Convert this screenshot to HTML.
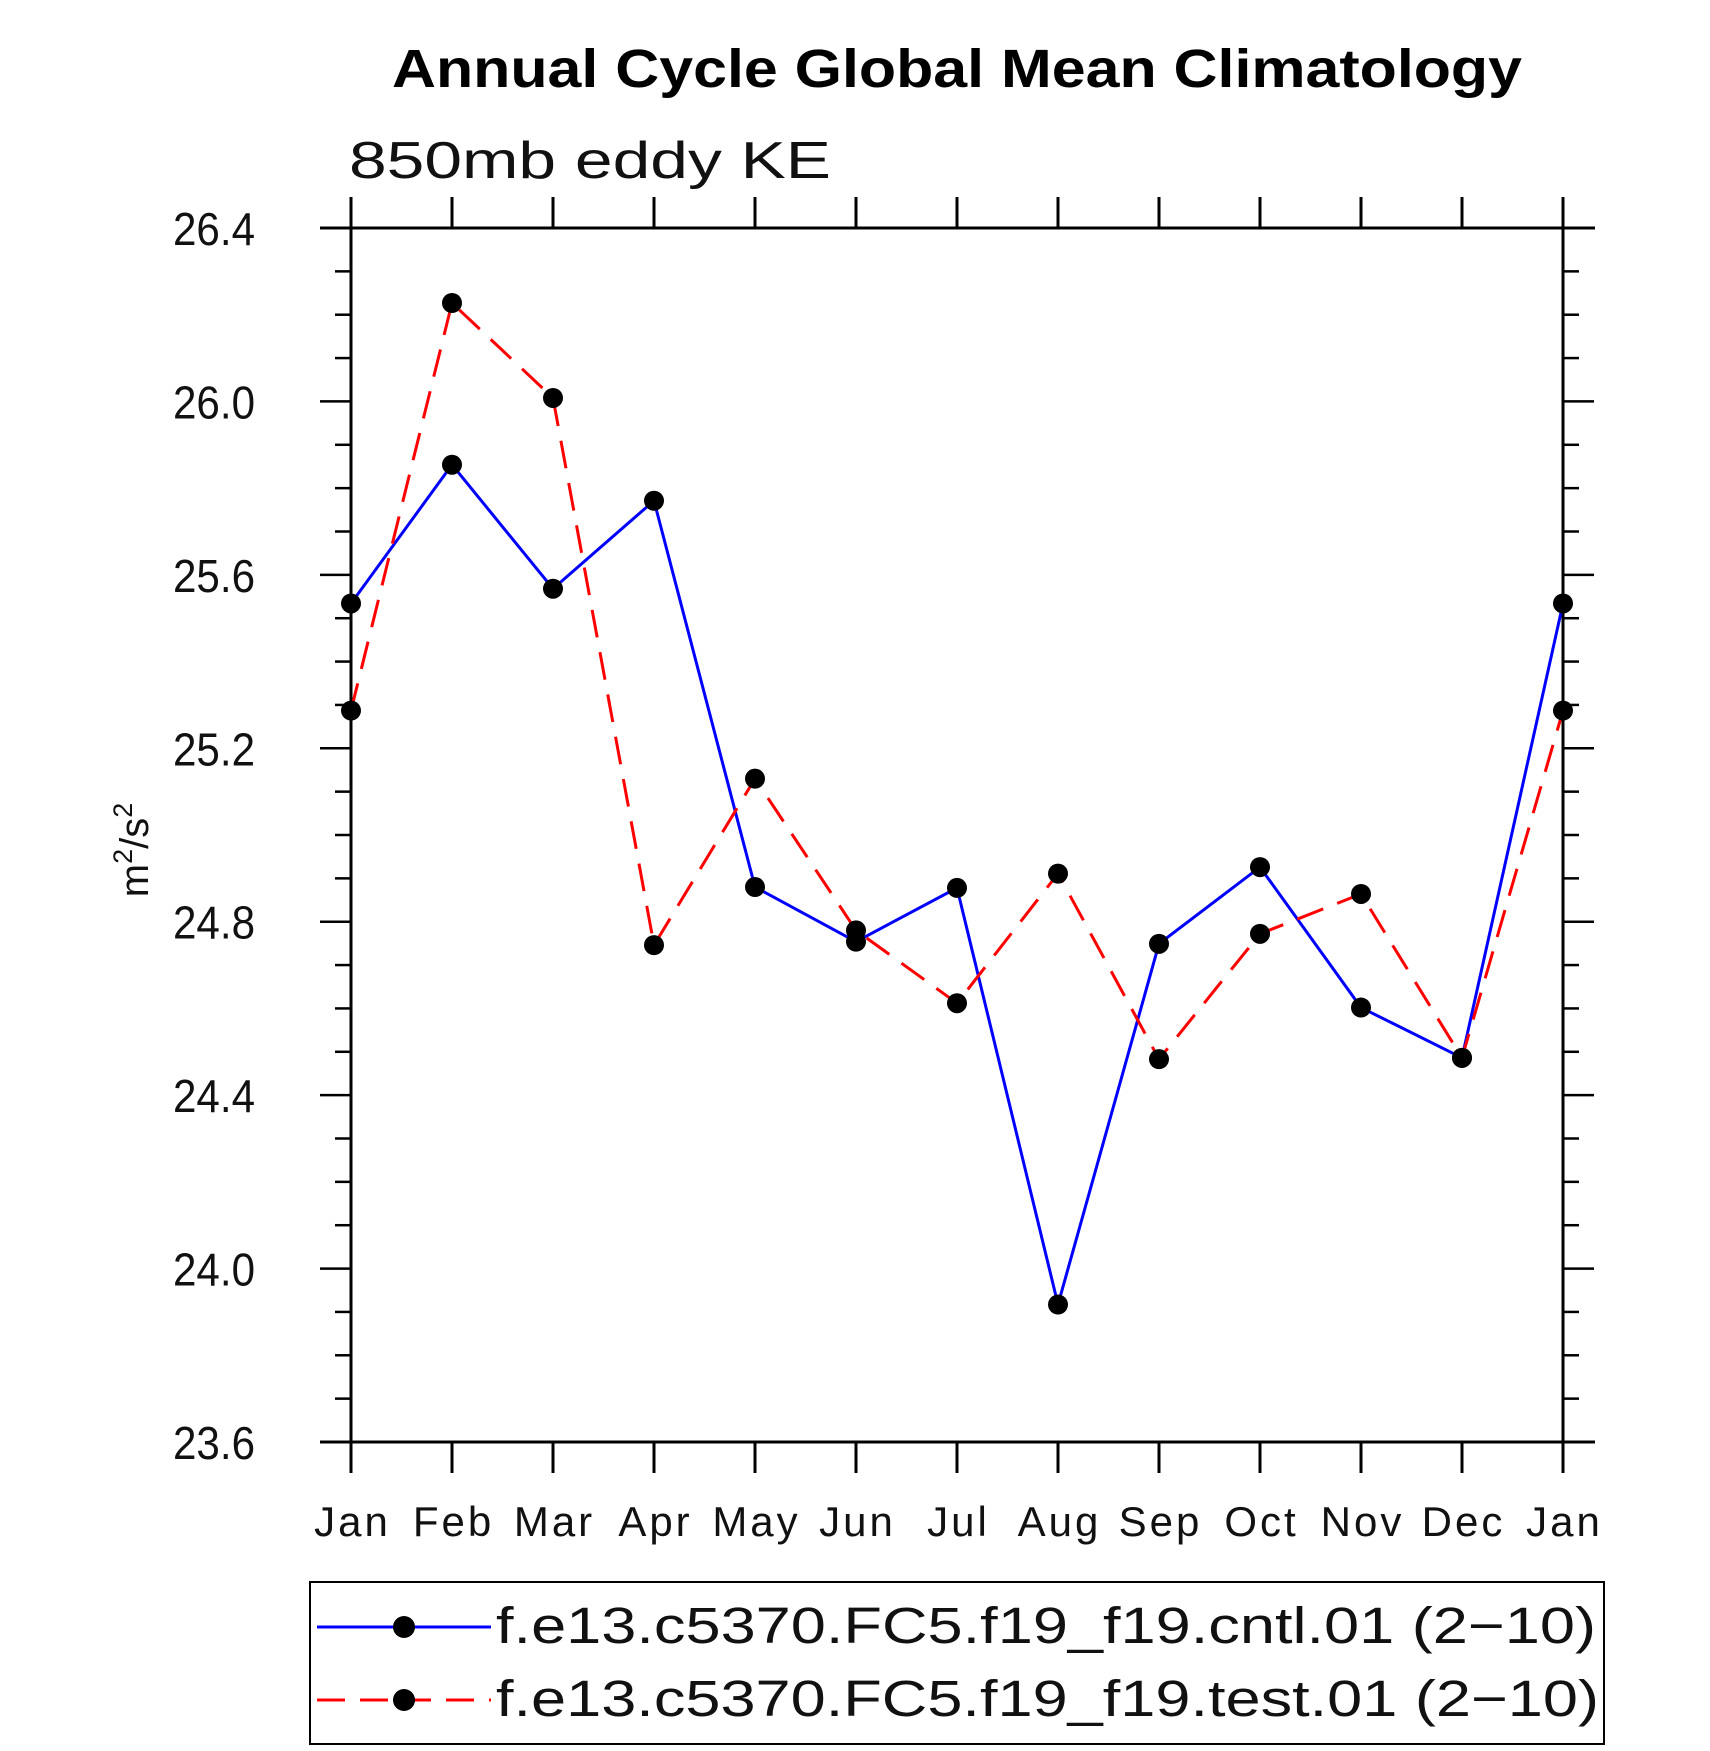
<!DOCTYPE html>
<html><head><meta charset="utf-8"><style>
html,body{margin:0;padding:0;background:#fff;}
svg{display:block;font-family:"Liberation Sans",sans-serif;}
</style></head><body>
<svg id="chart" width="1710" height="1751" viewBox="0 0 1710 1751" xmlns="http://www.w3.org/2000/svg">
<text x="957" y="87" text-anchor="middle" font-size="54" font-weight="bold" textLength="1130" lengthAdjust="spacingAndGlyphs">Annual Cycle Global Mean Climatology</text>
<text x="349" y="178" font-size="52" fill="#111" textLength="482" lengthAdjust="spacingAndGlyphs">850mb eddy KE</text>
<text transform="translate(148,850) rotate(-90)" text-anchor="middle" font-size="40" fill="#111">m<tspan dy="-16" font-size="27">2</tspan><tspan dy="16">/s</tspan><tspan dy="-16" font-size="27">2</tspan></text>
<g id="axes"></g>
<g id="series"></g>
<g>
<rect x="310" y="1582" width="1294" height="162" fill="none" stroke="#000" stroke-width="2"/>
<g>
<line x1="317" y1="1627" x2="491" y2="1627" stroke="#0000ff" stroke-width="3"/>
<circle cx="404" cy="1627" r="11" fill="#000"/>
<text x="496" y="1643" font-size="51" fill="#111" textLength="1100" lengthAdjust="spacingAndGlyphs">f.e13.c5370.FC5.f19_f19.cntl.01 (2−10)</text>
</g>
<g>
<line x1="317" y1="1700" x2="491" y2="1700" stroke="#ff0000" stroke-width="3" stroke-dasharray="28,15"/>
<circle cx="404" cy="1700" r="11" fill="#000"/>
<text x="496" y="1716" font-size="51" fill="#111" textLength="1103" lengthAdjust="spacingAndGlyphs">f.e13.c5370.FC5.f19_f19.test.01 (2−10)</text>
</g>
</g>
</svg>
<script>
const months = ["Jan","Feb","Mar","Apr","May","Jun","Jul","Aug","Sep","Oct","Nov","Dec","Jan"];
const cntlValues = [25.534,25.854,25.568,25.771,24.880,24.754,24.878,23.917,24.749,24.926,24.602,24.486,25.534];
const testValues = [25.287,26.227,26.008,24.746,25.130,24.780,24.612,24.911,24.483,24.772,24.864,24.486,25.287];
const yTicks = [23.6,24.0,24.4,24.8,25.2,25.6,26.0,26.4];
const yTickLabels = ["23.6","24.0","24.4","24.8","25.2","25.6","26.0","26.4"];

const NS="http://www.w3.org/2000/svg";
const L=351,R=1563,T=228,B=1442,yMin=23.6,yMax=26.4;
function xs(i){return L+(R-L)*i/(months.length-1);}
function ys(v){return B-(v-yMin)/(yMax-yMin)*(B-T);}
function mk(tag,attrs,parent){const e=document.createElementNS(NS,tag);for(const k in attrs)e.setAttribute(k,attrs[k]);parent.appendChild(e);return e;}
const axes=document.getElementById('axes');
const frame=mk('rect',{x:L,y:T,width:R-L,height:B-T,fill:'none',stroke:'#000','stroke-width':3},axes);


mk('line',{x1:320,y1:T,x2:1595,y2:T,stroke:'#000','stroke-width':3},axes);
mk('line',{x1:320,y1:B,x2:1595,y2:B,stroke:'#000','stroke-width':3},axes);
months.forEach((m,i)=>{
  const x=xs(i);
  mk('line',{x1:x,y1:B,x2:x,y2:B+31,stroke:'#000','stroke-width':3},axes);
  mk('line',{x1:x,y1:T,x2:x,y2:T-31,stroke:'#000','stroke-width':3},axes);
  const t=mk('text',{x:x+1.5,y:1536,'text-anchor':'middle','font-size':42,fill:'#111','letter-spacing':3},axes);
  t.textContent=m;
  
  
});
const minorStep=0.1;
const nMinor=Math.round((yMax-yMin)/minorStep);
for(let k=0;k<=nMinor;k++){
  const y=ys(yMin+k*minorStep);
  const major=k%4===0;
  const len=major?31:16;
  mk('line',{x1:L-len,y1:y,x2:L,y2:y,stroke:'#000','stroke-width':2.5},axes);
  mk('line',{x1:R,y1:y,x2:R+len,y2:y,stroke:'#000','stroke-width':2.5},axes);
}
yTicks.forEach((v,i)=>{
  const t=mk('text',{x:255,y:ys(v)+17,'text-anchor':'end','font-size':46,fill:'#111',textLength:82,lengthAdjust:'spacingAndGlyphs'},axes);
  t.textContent=yTickLabels[i];
  
  
});
const series=document.getElementById('series');
function drawSeries(vals,color,dash,name){
  const g=mk('g',{},series);
  
  
  const pts=vals.map((v,i)=>xs(i)+','+ys(v)).join(' ');
  const attrs={points:pts,fill:'none',stroke:color,'stroke-width':3};
  if(dash)attrs['stroke-dasharray']=dash;
  const pl=mk('polyline',attrs,g);
  
  
  vals.forEach((v,i)=>{
    const c=mk('circle',{cx:xs(i),cy:ys(v),r:10,fill:'#000'},g);
    
    
  });
}
drawSeries(cntlValues,'#0000ff',null,'cntl-series');
drawSeries(testValues,'#ff0000','28,15','test-series');
</script>
</body></html>
